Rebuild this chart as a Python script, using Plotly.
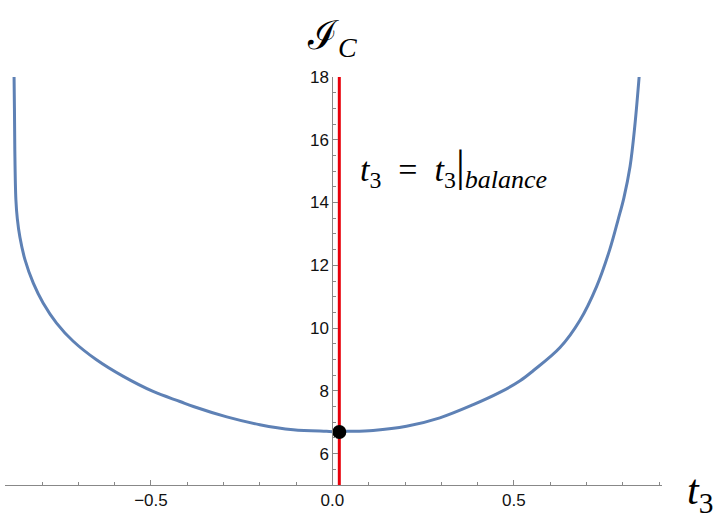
import plotly.graph_objects as go

# Curve samples
t3_values = [-0.877, -0.876, -0.875, -0.872, -0.868, -0.861, -0.847, -0.824, -0.797,
             -0.760, -0.714, -0.650, -0.576, -0.494, -0.420, -0.383, -0.291, -0.200,
             -0.108, -0.016, 0.010, 0.039, 0.112, 0.204, 0.296, 0.388, 0.461, 0.517,
             0.553, 0.627, 0.682, 0.728, 0.764, 0.787, 0.803, 0.820, 0.833, 0.845]
ic_values = [18.0, 17.0, 15.7, 14.09, 13.48, 12.90, 12.18, 11.43, 10.80,
             10.16, 9.58, 8.99, 8.46, 7.98, 7.66, 7.50, 7.17, 6.92,
             6.76, 6.71, 6.70, 6.71, 6.74, 6.87, 7.14, 7.56, 7.95, 8.32,
             8.64, 9.38, 10.25, 11.33, 12.50, 13.45, 14.15, 15.15, 16.43, 18.0]

t3_balance = 0.019
ic_balance = 6.69

x_range = [-0.902, 0.908]
y_range = [5.0, 18.0]
x_tickvals = [-0.5, 0.0, 0.5]
x_ticktext = ["\u22120.5", "0.0", "0.5"]
y_tickvals = [6, 8, 10, 12, 14, 16, 18]

fig = go.Figure()
fig.add_trace(go.Scatter(x=t3_values, y=ic_values, mode="lines",
                         line=dict(color="#5E81B5", width=3, shape="spline", smoothing=1.0),
                         hoverinfo="skip", showlegend=False))
fig.add_trace(go.Scatter(x=[t3_balance, t3_balance], y=y_range, mode="lines",
                         line=dict(color="#E8000B", width=3), showlegend=False))
fig.add_trace(go.Scatter(x=[t3_balance], y=[ic_balance], mode="markers",
                         marker=dict(color="black", size=14), showlegend=False))

tickfont = dict(family="Liberation Sans, Arial, sans-serif", size=17, color="#111")
ypos = (0 - x_range[0]) / (x_range[1] - x_range[0])

fig.update_layout(
    width=720, height=518,
    margin=dict(l=5, r=58, t=77, b=33, autoexpand=False),
    paper_bgcolor="white", plot_bgcolor="white",
    xaxis=dict(range=x_range, showline=True, linecolor="#888", linewidth=1,
               showgrid=False, zeroline=False, automargin=False,
               ticks="inside", ticklen=5, tickcolor="#888",
               tickvals=x_tickvals, ticktext=x_ticktext, tickfont=tickfont,
               minor=dict(dtick=0.1, tick0=0, ticks="inside", ticklen=3, tickcolor="#888")),
    yaxis=dict(range=y_range, showline=True, linecolor="#888", linewidth=1,
               showgrid=False, zeroline=False, anchor="free", position=ypos,
               automargin=False,
               ticks="inside", ticklen=5, tickcolor="#888",
               tickvals=y_tickvals, tickfont=tickfont,
               minor=dict(dtick=0.5, tick0=0, ticks="inside", ticklen=3, tickcolor="#888")),
)

serif = "Liberation Serif, DejaVu Serif, serif"
fig.add_annotation(xref="paper", yref="paper", x=ypos, y=1.0, yshift=39,
                   xanchor="center", yanchor="middle",
                   text="\u2110<sub><i>C</i></sub>", showarrow=False,
                   font=dict(family=serif, size=40, color="black"))
fig.add_annotation(xref="paper", yref="paper", x=1.0, y=0.0, xshift=38, yshift=-8,
                   xanchor="center", yanchor="middle",
                   text="<i>t</i><sub>3</sub>", showarrow=False,
                   font=dict(family=serif, size=42, color="black"))
fig.add_annotation(xref="x", yref="y", x=0.071, y=15.1, xanchor="left", yanchor="middle",
                   text=("<i>t</i><sub>3</sub>&nbsp;&nbsp;=&nbsp;&nbsp;<i>t</i><sub>3</sub>"
                         "<span style='font-size:44px'>|</span>"
                         "<sub><i><span style='font-size:26px'>balance</span></i></sub>"),
                   showarrow=False,
                   font=dict(family=serif, size=34, color="black"))

fig.write_html("out.html", config={"displayModeBar": False},
               post_script="document.body.style.margin='0';")
